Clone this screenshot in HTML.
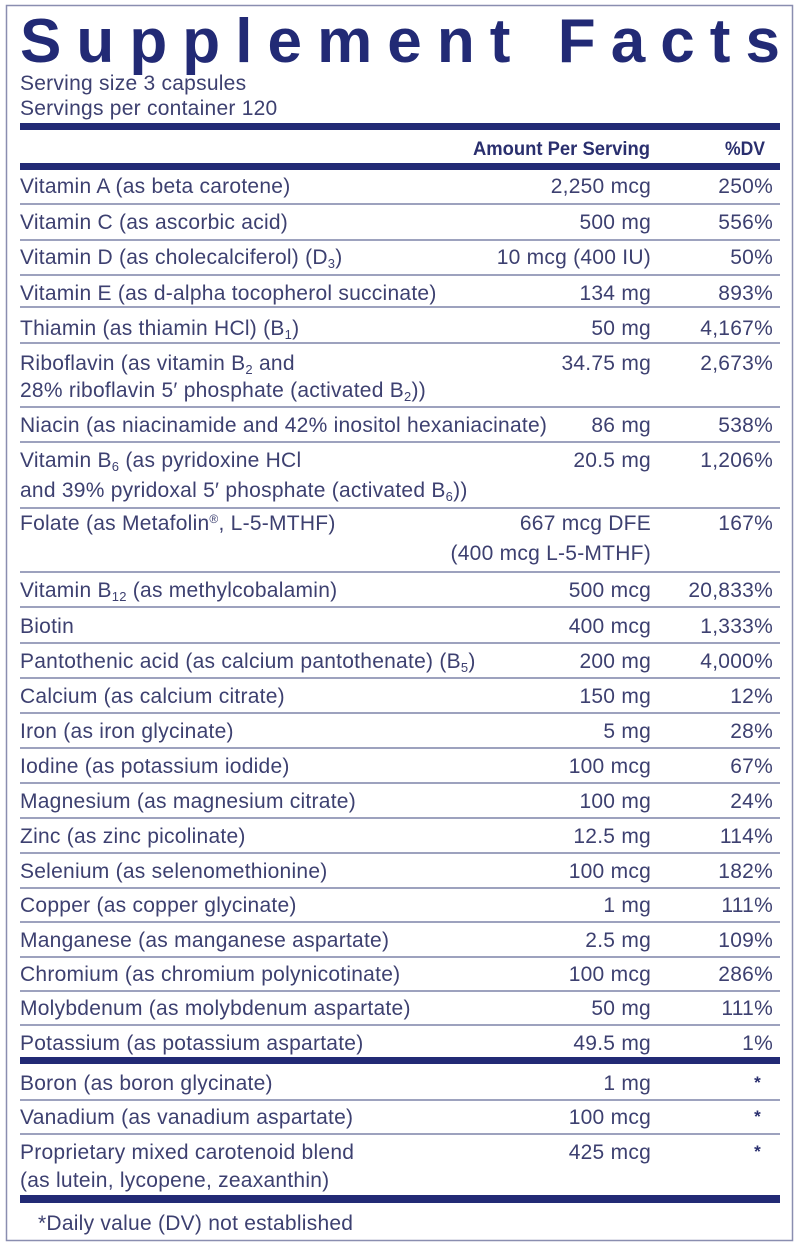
<!DOCTYPE html>
<html><head><meta charset="utf-8"><style>
html,body{margin:0;padding:0;background:#fff;width:800px;height:1251px;overflow:hidden}
svg{display:block}
text{font-family:"Liberation Sans",sans-serif;fill:#3d4070;font-size:21px;letter-spacing:0.25px}
.r{text-anchor:end}
.b{font-weight:bold;fill:#2a2f6e;letter-spacing:0}
.s{font-size:17px;font-weight:bold;fill:#2a2f6e}
</style></head><body>
<svg width="800" height="1251" viewBox="0 0 800 1251" xmlns="http://www.w3.org/2000/svg">
<rect x="6.5" y="5.5" width="786" height="1235" fill="none" stroke="#8a8eb0" stroke-width="1.5"/>
<text x="20" y="62" textLength="760" lengthAdjust="spacing" style="font-size:62px;font-weight:bold;fill:#222a75;letter-spacing:0">Supplement Facts</text>
<text x="20" y="90">Serving size  3 capsules</text>
<text x="20" y="115">Servings per container  120</text>
<rect x="20" y="123" width="760" height="7" fill="#222a75"/>
<text class="r b" x="650" y="155" textLength="177" lengthAdjust="spacingAndGlyphs" style="font-size:19px">Amount Per Serving</text>
<text class="r b" x="765" y="155" textLength="40" lengthAdjust="spacingAndGlyphs" style="font-size:19px">%DV</text>
<rect x="20" y="163" width="760" height="7" fill="#222a75"/>
<g stroke="#7d83a8" stroke-width="1.5">
<line x1="20" x2="780" y1="204" y2="204"/>
<line x1="20" x2="780" y1="240" y2="240"/>
<line x1="20" x2="780" y1="275" y2="275"/>
<line x1="20" x2="780" y1="307" y2="307"/>
<line x1="20" x2="780" y1="343" y2="343"/>
<line x1="20" x2="780" y1="407" y2="407"/>
<line x1="20" x2="780" y1="442" y2="442"/>
<line x1="20" x2="780" y1="508" y2="508"/>
<line x1="20" x2="780" y1="572" y2="572"/>
<line x1="20" x2="780" y1="607" y2="607"/>
<line x1="20" x2="780" y1="643" y2="643"/>
<line x1="20" x2="780" y1="678" y2="678"/>
<line x1="20" x2="780" y1="713" y2="713"/>
<line x1="20" x2="780" y1="748" y2="748"/>
<line x1="20" x2="780" y1="783" y2="783"/>
<line x1="20" x2="780" y1="818" y2="818"/>
<line x1="20" x2="780" y1="853" y2="853"/>
<line x1="20" x2="780" y1="888" y2="888"/>
<line x1="20" x2="780" y1="922" y2="922"/>
<line x1="20" x2="780" y1="957" y2="957"/>
<line x1="20" x2="780" y1="991" y2="991"/>
<line x1="20" x2="780" y1="1025" y2="1025"/>
<line x1="20" x2="780" y1="1100" y2="1100"/>
<line x1="20" x2="780" y1="1134" y2="1134"/>
</g>
<rect x="20" y="1057" width="760" height="7" fill="#222a75"/>
<rect x="20" y="1195" width="760" height="8" fill="#222a75"/>

<text x="20" y="193">Vitamin A (as beta carotene)</text><text class="r" x="651" y="193">2,250 mcg</text><text class="r" x="773" y="193">250%</text>
<text x="20" y="229">Vitamin C (as ascorbic acid)</text><text class="r" x="651" y="229">500 mg</text><text class="r" x="773" y="229">556%</text>
<text x="20" y="264">Vitamin D (as cholecalciferol) (D<tspan font-size="13" dy="4">3</tspan><tspan dy="-4">)</tspan></text><text class="r" x="651" y="264">10 mcg (400 IU)</text><text class="r" x="773" y="264">50%</text>
<text x="20" y="300">Vitamin E (as d-alpha tocopherol succinate)</text><text class="r" x="651" y="300">134 mg</text><text class="r" x="773" y="300">893%</text>
<text x="20" y="335">Thiamin (as thiamin HCl) (B<tspan font-size="13" dy="4">1</tspan><tspan dy="-4">)</tspan></text><text class="r" x="651" y="335">50 mg</text><text class="r" x="773" y="335">4,167%</text>
<text x="20" y="370">Riboflavin (as vitamin B<tspan font-size="13" dy="4">2</tspan><tspan dy="-4"> and</tspan></text><text class="r" x="651" y="370">34.75 mg</text><text class="r" x="773" y="370">2,673%</text>
<text x="20" y="397">28% riboflavin 5′ phosphate (activated B<tspan font-size="13" dy="4">2</tspan><tspan dy="-4">))</tspan></text>
<text x="20" y="432">Niacin (as niacinamide and 42% inositol hexaniacinate)</text><text class="r" x="651" y="432">86 mg</text><text class="r" x="773" y="432">538%</text>
<text x="20" y="467">Vitamin B<tspan font-size="13" dy="4">6</tspan><tspan dy="-4"> (as pyridoxine HCl</tspan></text><text class="r" x="651" y="467">20.5 mg</text><text class="r" x="773" y="467">1,206%</text>
<text x="20" y="497">and 39% pyridoxal 5′ phosphate (activated B<tspan font-size="13" dy="4">6</tspan><tspan dy="-4">))</tspan></text>
<text x="20" y="530">Folate (as Metafolin<tspan font-size="12" dy="-7">®</tspan><tspan dy="7">, L-5-MTHF)</tspan></text><text class="r" x="651" y="530">667 mcg DFE</text><text class="r" x="773" y="530">167%</text>
<text class="r" x="651" y="560">(400 mcg L-5-MTHF)</text>
<text x="20" y="597">Vitamin B<tspan font-size="13" dy="4">12</tspan><tspan dy="-4"> (as methylcobalamin)</tspan></text><text class="r" x="651" y="597">500 mcg</text><text class="r" x="773" y="597">20,833%</text>
<text x="20" y="633">Biotin</text><text class="r" x="651" y="633">400 mcg</text><text class="r" x="773" y="633">1,333%</text>
<text x="20" y="668">Pantothenic acid (as calcium pantothenate) (B<tspan font-size="13" dy="4">5</tspan><tspan dy="-4">)</tspan></text><text class="r" x="651" y="668">200 mg</text><text class="r" x="773" y="668">4,000%</text>
<text x="20" y="703">Calcium (as calcium citrate)</text><text class="r" x="651" y="703">150 mg</text><text class="r" x="773" y="703">12%</text>
<text x="20" y="738">Iron (as iron glycinate)</text><text class="r" x="651" y="738">5 mg</text><text class="r" x="773" y="738">28%</text>
<text x="20" y="773">Iodine (as potassium iodide)</text><text class="r" x="651" y="773">100 mcg</text><text class="r" x="773" y="773">67%</text>
<text x="20" y="808">Magnesium (as magnesium citrate)</text><text class="r" x="651" y="808">100 mg</text><text class="r" x="773" y="808">24%</text>
<text x="20" y="843">Zinc (as zinc picolinate)</text><text class="r" x="651" y="843">12.5 mg</text><text class="r" x="773" y="843">114%</text>
<text x="20" y="878">Selenium (as selenomethionine)</text><text class="r" x="651" y="878">100 mcg</text><text class="r" x="773" y="878">182%</text>
<text x="20" y="912">Copper (as copper glycinate)</text><text class="r" x="651" y="912">1 mg</text><text class="r" x="773" y="912">111%</text>
<text x="20" y="947">Manganese (as manganese aspartate)</text><text class="r" x="651" y="947">2.5 mg</text><text class="r" x="773" y="947">109%</text>
<text x="20" y="981">Chromium (as chromium polynicotinate)</text><text class="r" x="651" y="981">100 mcg</text><text class="r" x="773" y="981">286%</text>
<text x="20" y="1015">Molybdenum (as molybdenum aspartate)</text><text class="r" x="651" y="1015">50 mg</text><text class="r" x="773" y="1015">111%</text>
<text x="20" y="1050">Potassium (as potassium aspartate)</text><text class="r" x="651" y="1050">49.5 mg</text><text class="r" x="773" y="1050">1%</text>
<text x="20" y="1090">Boron (as boron glycinate)</text><text class="r" x="651" y="1090">1 mg</text><text class="r s" x="761" y="1088">*</text>
<text x="20" y="1124">Vanadium (as vanadium aspartate)</text><text class="r" x="651" y="1124">100 mcg</text><text class="r s" x="761" y="1122">*</text>
<text x="20" y="1159">Proprietary mixed carotenoid blend</text><text class="r" x="651" y="1159">425 mcg</text><text class="r s" x="761" y="1157">*</text>
<text x="20" y="1187">(as lutein, lycopene, zeaxanthin)</text>
<text x="38" y="1230">*Daily value (DV) not established</text>
</svg>
</body></html>
